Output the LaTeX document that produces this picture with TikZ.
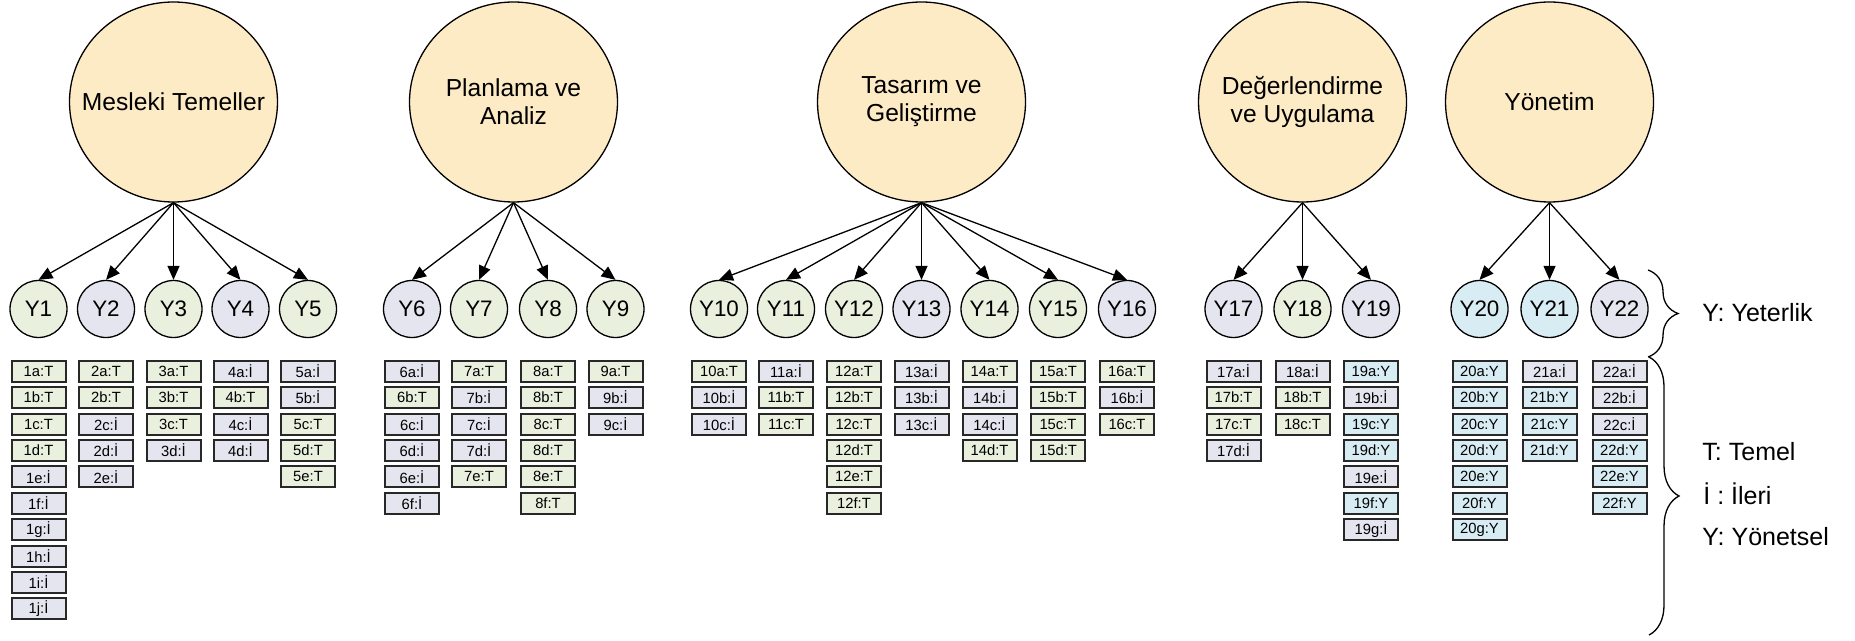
\documentclass[tikz,border=0pt]{standalone}
\usepackage{fontspec}
\usepackage{graphicx}
\setmainfont{Liberation Sans}
\usetikzlibrary{arrows.meta,shapes.geometric,decorations.pathreplacing}
\definecolor{mainfill}{RGB}{252,235,196}
\definecolor{cT}{RGB}{233,240,221}
\definecolor{cI}{RGB}{229,229,240}
\definecolor{cY}{RGB}{216,236,243}
\definecolor{boxline}{RGB}{40,40,40}
\def\labT{T}\def\labI{İ}\def\labY{Y}
\begin{document}
\begin{tikzpicture}[x=0.5pt,y=-0.5pt,
  mainc/.style={ellipse, draw=black, line width=0.65pt, fill=mainfill, minimum width=104pt, minimum height=100pt, inner sep=0pt},
  maintext/.style={align=center, inner sep=0pt, font=\fontsize{12.3}{14}\selectfont},
  ycirc/.style={circle, draw=black, line width=0.65pt, minimum size=28.5pt, inner sep=0pt, font=\fontsize{11.2}{13}\selectfont},
  itembox/.style={rectangle, draw=boxline, line width=1pt, minimum width=27pt, minimum height=10.5pt, inner sep=0pt, font=\fontsize{7.4}{8}\selectfont},
  arr/.style={-{Triangle[length=7pt,width=6pt]}, line width=0.65pt},
  legend/.style={anchor=west, inner sep=0pt, font=\fontsize{12.5}{14}\selectfont},
  bracestyle/.style={decorate, decoration={brace, amplitude=15pt}, line width=0.65pt},
]
\path[fill=white,use as bounding box] (0,0) rectangle (1855,641);

% main constructs
\node[mainc] (M1) at (173.5,102) {};
\node[maintext] (M1t) at (M1.center) {Mesleki Temeller};
\node[mainc] (M2) at (513.5,102) {};
\node[maintext] (M2t) at (M2.center) {Planlama ve\\Analiz};
\node[mainc] (M3) at (921.5,102) {};
\node[maintext] (M3t) at (M3.center) {Tasarım ve\\Geliştirme};
\node[mainc] (M4) at (1302.5,102) {};
\node[maintext] (M4t) at (M4.center) {Değerlendirme\\ve Uygulama};
\node[mainc] (M5) at (1549.5,102) {};
\node[maintext] (M5t) at (M5.center) {Yönetim};

% competencies and items
\foreach \n/\xx/\c/\items in {
  1/38.5/T/{a/T,b/T,c/T,d/T,e/I,f/I,g/I,h/I,i/I,j/I},
  2/106/I/{a/T,b/T,c/I,d/I,e/I},
  3/173.5/T/{a/T,b/T,c/T,d/I},
  4/240.5/I/{a/I,b/T,c/I,d/I},
  5/308/T/{a/I,b/I,c/T,d/T,e/T},
  6/412/I/{a/I,b/T,c/I,d/I,e/I,f/I},
  7/479/T/{a/T,b/I,c/I,d/I,e/T},
  8/548/T/{a/T,b/T,c/T,d/T,e/T,f/T},
  9/615.5/T/{a/T,b/I,c/I},
  10/719/T/{a/T,b/I,c/I},
  11/786/T/{a/I,b/T,c/T},
  12/854/T/{a/T,b/T,c/T,d/T,e/T,f/T},
  13/921.5/I/{a/I,b/I,c/I},
  14/989.5/T/{a/T,b/I,c/I,d/T},
  15/1058/T/{a/T,b/T,c/T,d/T},
  16/1127/I/{a/T,b/I,c/T},
  17/1233.5/I/{a/I,b/T,c/T,d/I},
  18/1302.5/T/{a/I,b/T,c/T},
  19/1371/I/{a/Y,b/I,c/Y,d/Y,e/I,f/Y,g/I},
  20/1479.5/Y/{a/Y,b/Y,c/Y,d/Y,e/Y,f/Y,g/Y},
  21/1549.5/Y/{a/I,b/Y,c/Y,d/Y},
  22/1619.5/I/{a/I,b/I,c/I,d/Y,e/Y,f/Y}} {
  \node[ycirc, fill=c\c] (Y\n) at (\xx,309) {Y\n};
  \foreach \l/\t [count=\r from 0] in \items {
    \node[itembox, fill=c\t] (b\n\l) at (\xx,{371.2+26.4*\r}) {\n\l:\csname lab\t\endcsname};
  }
}

% arrows
\foreach \m/\ys in {1/{1,2,3,4,5},2/{6,7,8,9},3/{10,11,12,13,14,15,16},4/{17,18,19},5/{20,21,22}} {
  \foreach \k in \ys {
    \draw[arr] (M\m.south) -- (Y\k.north);
  }
}

% braces and legend
\coordinate (bt1) at (1648,270);
\coordinate (bb1) at (1648,357);
\coordinate (bt2) at (1649,357);
\coordinate (bb2) at (1649,635);
\draw[bracestyle] (bt1) -- (bb1);
\draw[bracestyle] (bt2) -- (bb2);
\node[legend] (lY) at (1702,313) {Y: Yeterlik};
\node[legend] (lT) at (1702,452) {T: Temel};
\node[legend] (lI) at (1703,494) {İ : İleri};
\node[legend] (lYn) at (1702,537) {Y: Yönetsel};
\end{tikzpicture}
\end{document}
